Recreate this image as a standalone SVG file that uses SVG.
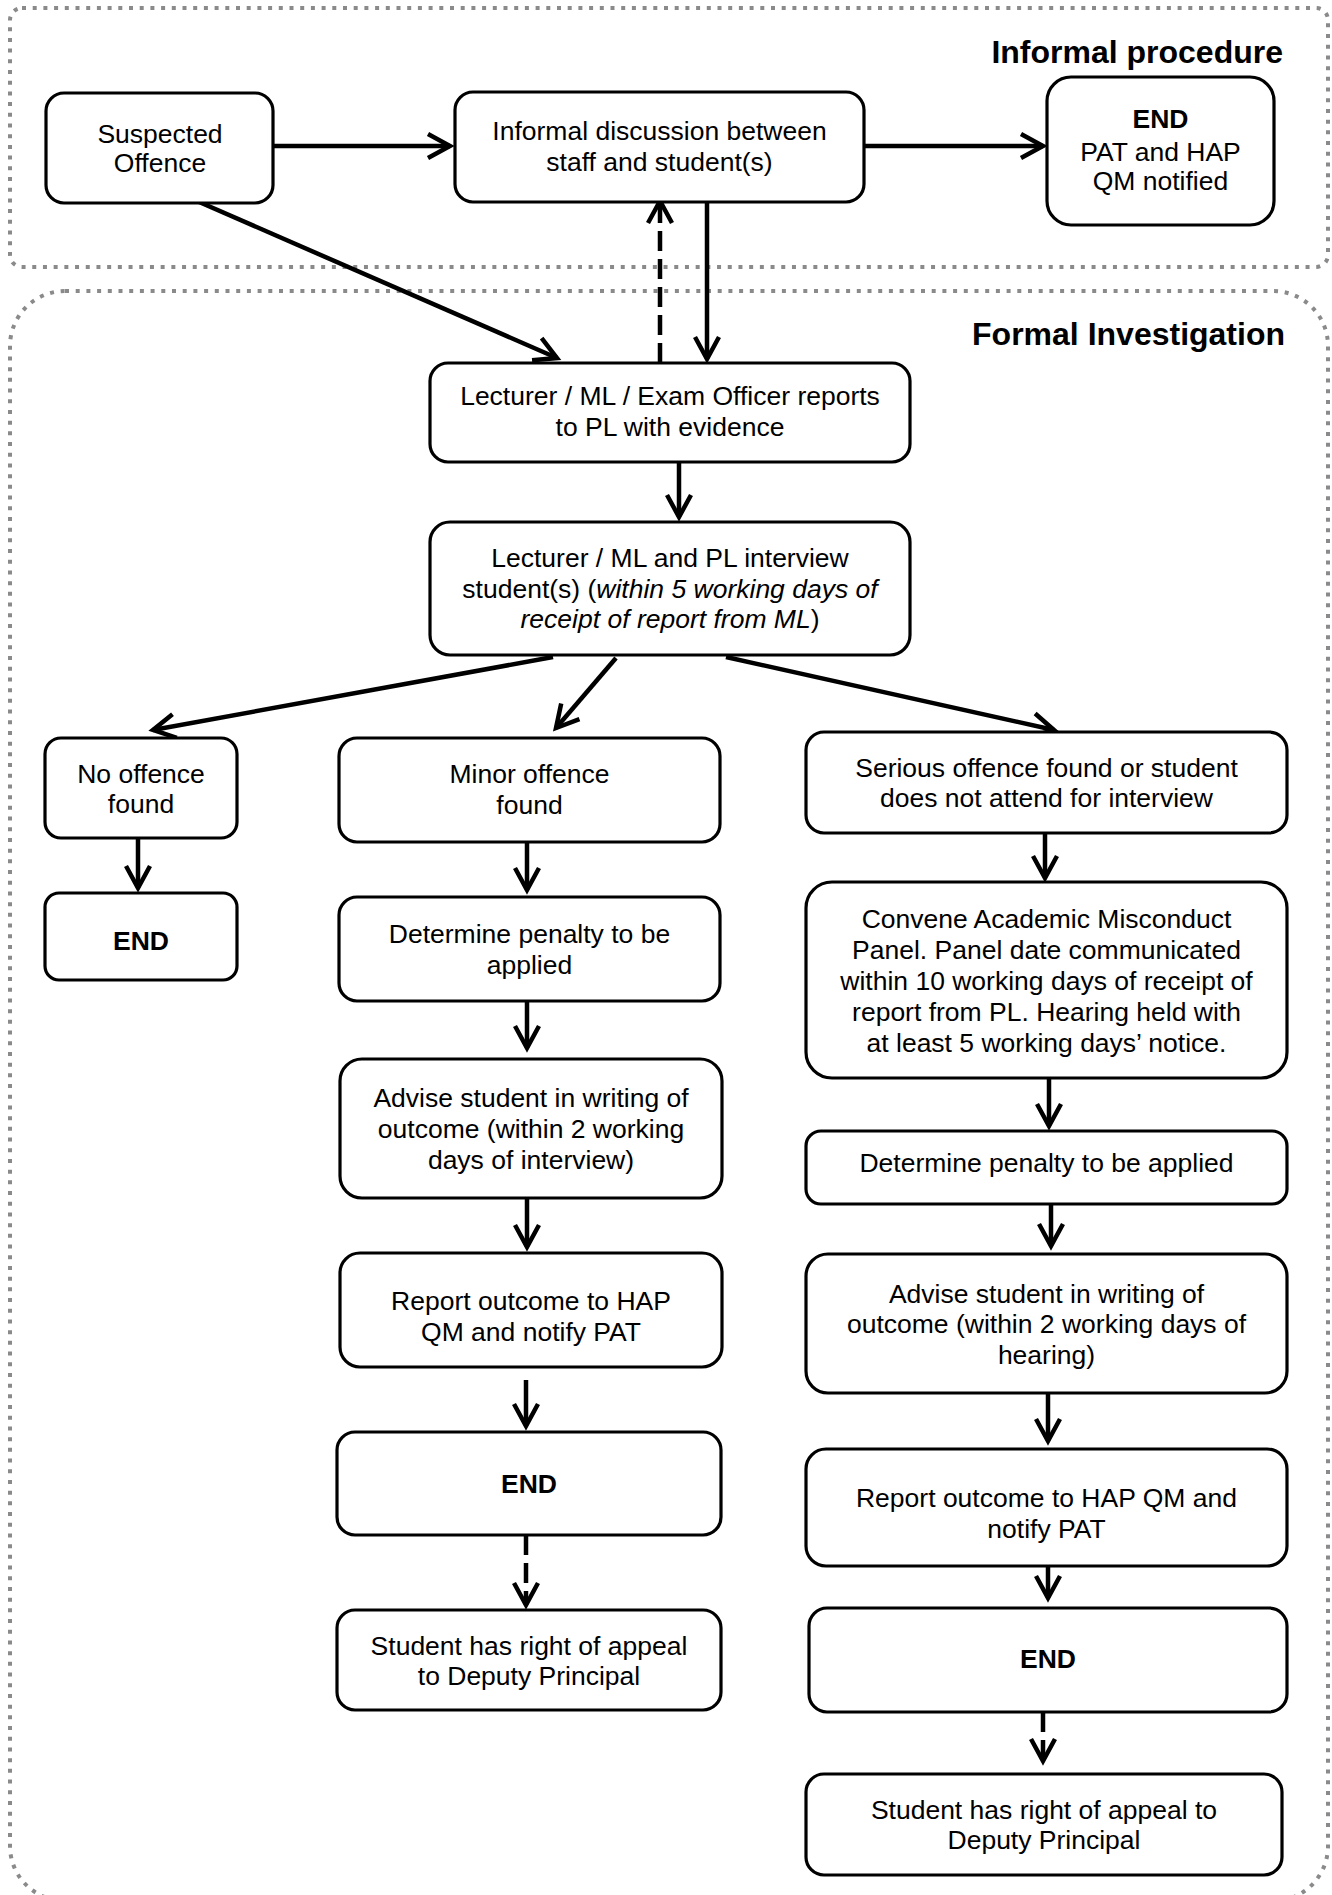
<svg xmlns="http://www.w3.org/2000/svg" width="1332" height="1895" viewBox="0 0 1332 1895">
<style>
  .box { fill: #fff; stroke: #000; stroke-width: 3.2; }
  .t { font-family: "Liberation Sans", Arial, sans-serif; font-size: 26.5px; fill: #000; text-anchor: middle; }
  .b { font-weight: bold; }
  .hdr { font-family: "Liberation Sans", Arial, sans-serif; font-size: 32px; font-weight: bold; fill: #000; text-anchor: end; }
  .cont { fill: none; stroke: #8a8a8a; stroke-width: 4; stroke-dasharray: 4 6.7; }
  .c { fill: none; stroke: #000; stroke-width: 4.5; marker-end: url(#ah); }
  .dash { stroke-dasharray: 20 8; }
</style>
<defs>
  <marker id="ah" markerUnits="userSpaceOnUse" viewBox="-30 -16 36 32" markerWidth="36" markerHeight="32" refX="0" refY="0" orient="auto" overflow="visible">
    <path d="M-22,-12 L0,0 L-22,12" fill="none" stroke="#000" stroke-width="4.5" stroke-linejoin="miter"/>
  </marker>
</defs>
<rect width="1332" height="1895" fill="#fff"/>

<g id="containers">
  <rect id="informal-procedure" class="cont" x="10" y="8" width="1318" height="259" rx="12"/>
  <text class="hdr" x="1283" y="63">Informal procedure</text>
  <rect id="formal-investigation" class="cont" x="10" y="291" width="1318" height="1610" rx="55"/>
  <text class="hdr" x="1285" y="345">Formal Investigation</text>
</g>

<g id="connectors">
  <path class="c" d="M273,146 L450,146"/>
  <path class="c" d="M864,146 L1043,146"/>
  <path class="c" d="M190,198 L557,358"/>
  <path class="c dash" d="M660,363 L660,201"/>
  <path class="c" d="M707,202 L707,359"/>
  <path class="c" d="M679,462 L679,517"/>
  <path class="c" d="M553,657 L153,730"/>
  <path class="c" d="M616,658 L556,728"/>
  <path class="c" d="M726,657 L1054,730"/>
  <path class="c" d="M138,838 L138,888"/>
  <path class="c" d="M527,842 L527,890"/>
  <path class="c" d="M527,1001 L527,1048"/>
  <path class="c" d="M527,1198 L527,1247"/>
  <path class="c" d="M526,1380 L526,1426"/>
  <path class="c dash" d="M526,1535 L526,1605"/>
  <path class="c" d="M1045,833 L1045,878"/>
  <path class="c" d="M1049,1078 L1049,1126"/>
  <path class="c" d="M1051,1204 L1051,1246"/>
  <path class="c" d="M1048,1393 L1048,1441"/>
  <path class="c" d="M1048,1566 L1048,1598"/>
  <path class="c dash" d="M1043,1712 L1043,1761"/>
</g>

<g id="suspected-offence">
  <rect class="box" x="46" y="93" width="227" height="110" rx="18"/>
  <text class="t" x="160" y="143">Suspected</text>
  <text class="t" x="160" y="172">Offence</text>
</g>
<g id="informal-discussion">
  <rect class="box" x="455" y="92" width="409" height="110" rx="18"/>
  <text class="t" x="659.5" y="140">Informal discussion between</text>
  <text class="t" x="659.5" y="171">staff and student(s)</text>
</g>
<g id="end-informal">
  <rect class="box" x="1047" y="77" width="227" height="148" rx="24"/>
  <text class="t b" x="1160.5" y="128">END</text>
  <text class="t" x="1160.5" y="161">PAT and HAP</text>
  <text class="t" x="1160.5" y="190">QM notified</text>
</g>
<g id="lecturer-reports">
  <rect class="box" x="430" y="363" width="480" height="99" rx="18"/>
  <text class="t" x="670" y="405">Lecturer / ML / Exam Officer reports</text>
  <text class="t" x="670" y="436">to PL with evidence</text>
</g>
<g id="interview">
  <rect class="box" x="430" y="522" width="480" height="133" rx="20"/>
  <text class="t" x="670" y="567">Lecturer / ML and PL interview</text>
  <text class="t" x="670" y="598">student(s) (<tspan font-style="italic">within 5 working days of</tspan></text>
  <text class="t" x="670" y="628"><tspan font-style="italic">receipt of report from ML</tspan>)</text>
</g>
<g id="no-offence">
  <rect class="box" x="45" y="738" width="192" height="100" rx="16"/>
  <text class="t" x="141" y="783">No offence</text>
  <text class="t" x="141" y="813">found</text>
</g>
<g id="end-no-offence">
  <rect class="box" x="45" y="893" width="192" height="87" rx="14"/>
  <text class="t b" x="141" y="950">END</text>
</g>
<g id="minor-offence">
  <rect class="box" x="339" y="738" width="381" height="104" rx="18"/>
  <text class="t" x="529.5" y="783">Minor offence</text>
  <text class="t" x="529.5" y="814">found</text>
</g>
<g id="determine-minor">
  <rect class="box" x="339" y="897" width="381" height="104" rx="18"/>
  <text class="t" x="529.5" y="943">Determine penalty to be</text>
  <text class="t" x="529.5" y="974">applied</text>
</g>
<g id="advise-minor">
  <rect class="box" x="340" y="1059" width="382" height="139" rx="22"/>
  <text class="t" x="531" y="1107">Advise student in writing of</text>
  <text class="t" x="531" y="1138">outcome (within 2 working</text>
  <text class="t" x="531" y="1169">days of interview)</text>
</g>
<g id="report-minor">
  <rect class="box" x="340" y="1253" width="382" height="114" rx="20"/>
  <text class="t" x="531" y="1310">Report outcome to HAP</text>
  <text class="t" x="531" y="1341">QM and notify PAT</text>
</g>
<g id="end-minor">
  <rect class="box" x="337" y="1432" width="384" height="103" rx="18"/>
  <text class="t b" x="529" y="1493">END</text>
</g>
<g id="appeal-minor">
  <rect class="box" x="337" y="1610" width="384" height="100" rx="18"/>
  <text class="t" x="529" y="1655">Student has right of appeal</text>
  <text class="t" x="529" y="1685">to Deputy Principal</text>
</g>
<g id="serious-offence">
  <rect class="box" x="806" y="732" width="481" height="101" rx="18"/>
  <text class="t" x="1046.5" y="777">Serious offence found or student</text>
  <text class="t" x="1046.5" y="807">does not attend for interview</text>
</g>
<g id="convene-panel">
  <rect class="box" x="806" y="882" width="481" height="196" rx="26"/>
  <text class="t" x="1046.5" y="928">Convene Academic Misconduct</text>
  <text class="t" x="1046.5" y="959">Panel. Panel date communicated</text>
  <text class="t" x="1046.5" y="990">within 10 working days of receipt of</text>
  <text class="t" x="1046.5" y="1021">report from PL. Hearing held with</text>
  <text class="t" x="1046.5" y="1052">at least 5 working days’ notice.</text>
</g>
<g id="determine-serious">
  <rect class="box" x="806" y="1131" width="481" height="73" rx="15"/>
  <text class="t" x="1046.5" y="1172">Determine penalty to be applied</text>
</g>
<g id="advise-serious">
  <rect class="box" x="806" y="1254" width="481" height="139" rx="22"/>
  <text class="t" x="1046.5" y="1303">Advise student in writing of</text>
  <text class="t" x="1046.5" y="1333">outcome (within 2 working days of</text>
  <text class="t" x="1046.5" y="1364">hearing)</text>
</g>
<g id="report-serious">
  <rect class="box" x="806" y="1449" width="481" height="117" rx="20"/>
  <text class="t" x="1046.5" y="1507">Report outcome to HAP QM and</text>
  <text class="t" x="1046.5" y="1538">notify PAT</text>
</g>
<g id="end-serious">
  <rect class="box" x="809" y="1608" width="478" height="104" rx="18"/>
  <text class="t b" x="1048" y="1668">END</text>
</g>
<g id="appeal-serious">
  <rect class="box" x="806" y="1774" width="476" height="101" rx="18"/>
  <text class="t" x="1044" y="1819">Student has right of appeal to</text>
  <text class="t" x="1044" y="1849">Deputy Principal</text>
</g>
</svg>
